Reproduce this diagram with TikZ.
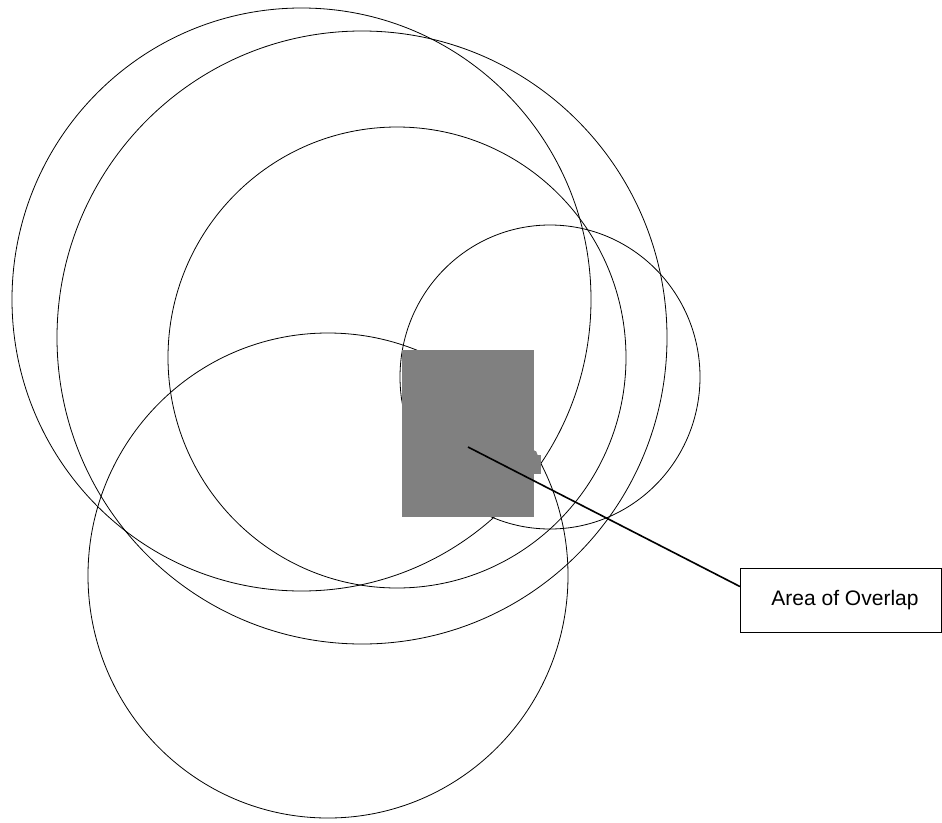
\documentclass[tikz,border=0pt]{standalone}
\usepackage{fontspec}
\setmainfont{Liberation Sans}
\definecolor{overlapgray}{RGB}{128,128,128}
\tikzset{
  ring/.style={draw=black, line width=0.8pt},
  overlap/.style={fill=overlapgray, draw=none},
  leader/.style={draw=black, line width=1.6pt},
  labelbox/.style={draw=black, line width=1.2pt, fill=white, rectangle, minimum width=201pt, minimum height=64pt, inner sep=0pt, font=\fontsize{21}{25}\selectfont}
}
\begin{document}
\begin{tikzpicture}[x=1pt, y=-1pt]
\useasboundingbox (0,0) rectangle (942,822);
% circles
\draw[ring] (301.5,299.5) ellipse [x radius=289.5pt, y radius=291.5pt];
\draw[ring] (362,337.5) ellipse [x radius=305pt, y radius=306.5pt];
\draw[ring] (397,357.5) ellipse [x radius=229pt, y radius=230.5pt];
\draw[ring] (550,377) ellipse [x radius=150pt, y radius=152pt];
\draw[ring] (328,575.5) ellipse [x radius=240pt, y radius=242.5pt];
% overlap area
\fill[overlap] (402,350) rectangle (534,516.5);
\fill[overlap] (533,455) rectangle (541,474);
\fill[overlap] (533,451) -- (536,451) -- (538,456) -- (533,456) -- cycle;
% label and leader
\coordinate (p) at (468,447);
\node[labelbox] (box) at (841,600.5) {\hspace*{8pt}Area of Overlap};
\draw[leader] (p) -- ([yshift=14pt]box.west);
\end{tikzpicture}
\end{document}
